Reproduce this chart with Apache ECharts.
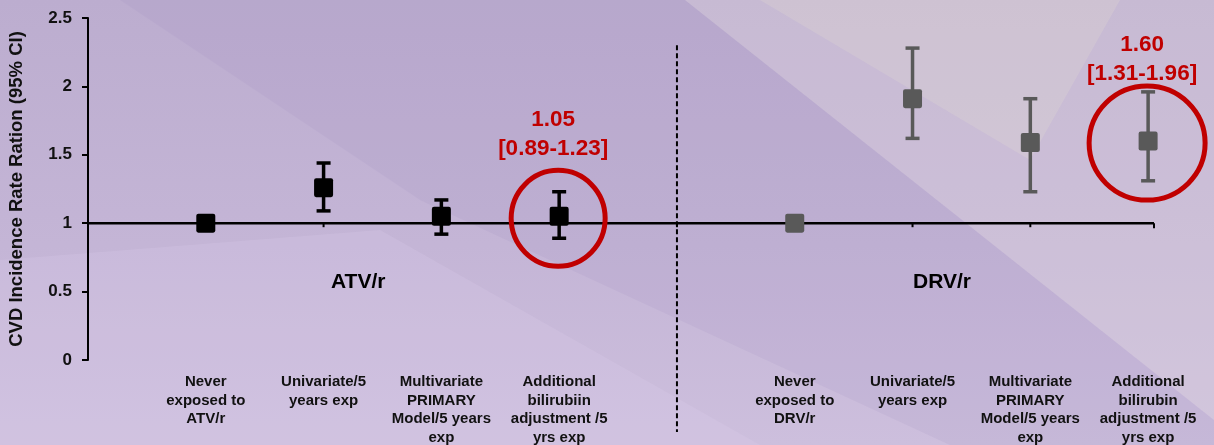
<!DOCTYPE html>
<html>
<head>
<meta charset="utf-8">
<script src="https://cdn.jsdelivr.net/npm/echarts@6/dist/echarts.min.js"></script>
<style>
  html, body { margin: 0; padding: 0; }
  #chart { width: 1214px; height: 445px; }
</style>
</head>
<body>
<div id="chart"></div>
<script>
// Category labels along the x axis (positions 1-4 and 6-9; 5 is the divider)
const categories = [
  '', 'Never\nexposed to\nATV/r', 'Univariate/5\nyears exp', 'Multivariate\nPRIMARY\nModel/5 years\nexp',
  'Additional\nbilirubiin\nadjustment /5\nyrs exp', '',
  'Never\nexposed to\nDRV/r', 'Univariate/5\nyears exp', 'Multivariate\nPRIMARY\nModel/5 years\nexp',
  'Additional\nbilirubin\nadjustment /5\nyrs exp'
];
const yTicks = [0, 0.5, 1, 1.5, 2, 2.5];

// Incidence rate ratios with 95% CI
const atvPos = [1, 2, 3, 4];
const atvIRR = [1.00, 1.26, 1.05, 1.05];
const atvLow = [1.00, 1.09, 0.92, 0.89];
const atvHigh = [1.00, 1.44, 1.17, 1.23];

const drvPos = [6, 7, 8, 9];
const drvIRR = [1.00, 1.91, 1.59, 1.60];
const drvLow = [1.00, 1.62, 1.23, 1.31];
const drvHigh = [1.00, 2.28, 1.91, 1.96];

// Highlighted estimates (position, IRR, low, high)
const highlighted = [[4, 1.05, 0.89, 1.23], [9, 1.60, 1.31, 1.96]];
const dividerPos = 5;
const dividerTop = 2.3;
const refLineEnd = 9.05;

const chart = echarts.init(document.getElementById('chart'));

function ciData(pos, low, high) {
  return pos.map((p, i) => [p, low[i], high[i]]).filter(d => d[1] !== d[2]);
}
function pointData(pos, val) {
  return pos.map((p, i) => [p, val[i]]);
}
function errorBar(color) {
  return function (params, api) {
    const top = api.coord([api.value(0), api.value(2)]);
    const bot = api.coord([api.value(0), api.value(1)]);
    const cap = 7;
    const style = { stroke: color, lineWidth: 3.5 };
    return {
      type: 'group',
      children: [
        { type: 'line', shape: { x1: top[0], y1: top[1], x2: bot[0], y2: bot[1] }, style },
        { type: 'line', shape: { x1: top[0] - cap, y1: top[1], x2: top[0] + cap, y2: top[1] }, style },
        { type: 'line', shape: { x1: bot[0] - cap, y1: bot[1], x2: bot[0] + cap, y2: bot[1] }, style }
      ]
    };
  };
}

const font = 'Liberation Sans, Arial, sans-serif';
const squareSymbol = 'path://M2,0 L16,0 Q18,0 18,2 L18,16 Q18,18 16,18 L2,18 Q0,18 0,16 L0,2 Q0,0 2,0 Z';

chart.setOption({
  backgroundColor: 'transparent',
  animation: false,
  graphic: [
    // soft geometric backdrop
    { type: 'rect', z: -10, shape: { x: 0, y: 0, width: 1214, height: 445 },
      style: { fill: new echarts.graphic.LinearGradient(0, 0, 0, 1, [
        { offset: 0, color: '#bcadcf' }, { offset: 0.55, color: '#c4b5d6' }, { offset: 1, color: '#cdbfdd' }]) } },
    { type: 'polygon', z: -9, shape: { points: [[120, 0], [685, 0], [1214, 420], [1214, 445], [950, 445], [420, 200]] },
      style: { fill: 'rgba(150,132,178,0.11)' } },
    { type: 'polygon', z: -9, shape: { points: [[685, 0], [1214, 0], [1214, 420]] },
      style: { fill: 'rgba(225,215,220,0.32)' } },
    { type: 'polygon', z: -9, shape: { points: [[760, 0], [1120, 0], [1030, 160]] },
      style: { fill: 'rgba(235,228,210,0.2)' } },
    { type: 'polygon', z: -9, shape: { points: [[0, 260], [0, 445], [760, 445], [380, 230]] },
      style: { fill: 'rgba(225,212,238,0.2)' } },
    { type: 'text', left: 331, top: 272,
      style: { text: 'ATV/r', font: 'bold 21px ' + font, fill: '#000' } },
    { type: 'text', left: 913, top: 272,
      style: { text: 'DRV/r', font: 'bold 21px ' + font, fill: '#000' } }
  ],
  grid: { left: 88, right: 60, top: 18, bottom: 85, containLabel: false, outerBoundsMode: 'none' },
  xAxis: {
    type: 'value', min: 0, max: refLineEnd, interval: 1,
    axisLine: { show: false }, axisTick: { show: false }, splitLine: { show: false },
    axisLabel: {
      formatter: v => categories[v] || '',
      color: '#111', fontFamily: font, fontWeight: 'bold', fontSize: 15, lineHeight: 18.5,
      margin: 13, align: 'center', verticalAlign: 'top',
      showMinLabel: false, showMaxLabel: false
    }
  },
  yAxis: {
    type: 'value', min: 0, max: 2.5, interval: 0.5,
    name: 'CVD Incidence Rate Ration (95% CI)', nameLocation: 'middle', nameGap: 62,
    nameTextStyle: { color: '#111', fontFamily: font, fontWeight: 'bold', fontSize: 18.5 },
    axisLine: { show: true, lineStyle: { color: '#000', width: 2 } },
    axisTick: { show: true, length: 6, lineStyle: { color: '#000', width: 2 } },
    splitLine: { show: false },
    axisLabel: {
      formatter: v => String(yTicks.find(t => Math.abs(t - v) < 1e-9) ?? v),
      color: '#111', fontFamily: font, fontWeight: 'bold', fontSize: 17, margin: 16
    }
  },
  series: [
    // reference line at IRR = 1 with small ticks
    {
      type: 'custom', silent: true, z: 1,
      data: [[0, 1, refLineEnd]],
      renderItem: (params, api) => {
        const a = api.coord([api.value(0), api.value(1)]);
        const b = api.coord([api.value(2), api.value(1)]);
        const children = [{ type: 'line', shape: { x1: a[0], y1: a[1], x2: b[0], y2: b[1] },
          style: { stroke: '#000', lineWidth: 2.5 } }];
        [2, 3, 5, 7, 8].forEach(k => {
          const p = api.coord([k, api.value(1)]);
          children.push({ type: 'line', shape: { x1: p[0], y1: p[1], x2: p[0], y2: p[1] + 4 },
            style: { stroke: '#000', lineWidth: 2 } });
        });
        children.push({ type: 'line', shape: { x1: b[0], y1: b[1], x2: b[0], y2: b[1] + 5 },
          style: { stroke: '#000', lineWidth: 2 } });
        return { type: 'group', children };
      }
    },
    // dashed divider between regimens
    {
      type: 'custom', silent: true, z: 1, clip: false,
      data: [[dividerPos, dividerTop]],
      renderItem: (params, api) => {
        const t = api.coord([api.value(0), api.value(1)]);
        const b = api.coord([api.value(0), 0]);
        return { type: 'line', shape: { x1: t[0], y1: t[1], x2: t[0], y2: b[1] + 72 },
          style: { stroke: '#000', lineWidth: 2, lineDash: [5, 3] } };
      }
    },
    { name: 'ATV/r CI', type: 'custom', z: 3, data: ciData(atvPos, atvLow, atvHigh), renderItem: errorBar('#000000') },
    { name: 'DRV/r CI', type: 'custom', z: 3, data: ciData(drvPos, drvLow, drvHigh), renderItem: errorBar('#595959') },
    { name: 'ATV/r', type: 'scatter', z: 4, symbol: squareSymbol,
      symbolSize: 19, itemStyle: { color: '#000000', opacity: 1 }, data: pointData(atvPos, atvIRR) },
    { name: 'DRV/r', type: 'scatter', z: 4, symbol: squareSymbol,
      symbolSize: 19, itemStyle: { color: '#595959', opacity: 1 }, data: pointData(drvPos, drvIRR) },
    // circled estimates with their value labels
    {
      type: 'custom', z: 5, clip: false, silent: true,
      data: highlighted,
      renderItem: (params, api) => {
        const c = api.coord([api.value(0), api.value(1)]);
        const lo = api.value(2), hi = api.value(3);
        const rx = params.dataIndex === 0 ? 47 : 58;
        const ry = params.dataIndex === 0 ? 48 : 57;
        const txt = api.value(1).toFixed(2) + '\n[' + lo.toFixed(2) + '-' + hi.toFixed(2) + ']';
        return {
          type: 'group',
          children: [
            { type: 'ellipse', shape: { cx: c[0] - 1, cy: c[1] + 2, rx, ry },
              style: { fill: 'none', stroke: '#c00000', lineWidth: 5 } },
            { type: 'text', x: c[0] - 6, y: c[1] - 82,
              style: { text: txt, font: 'bold 22.5px ' + font, fill: '#c00000',
                align: 'center', verticalAlign: 'middle', lineHeight: 29 } }
          ]
        };
      }
    }
  ]
});
</script>
</body>
</html>
